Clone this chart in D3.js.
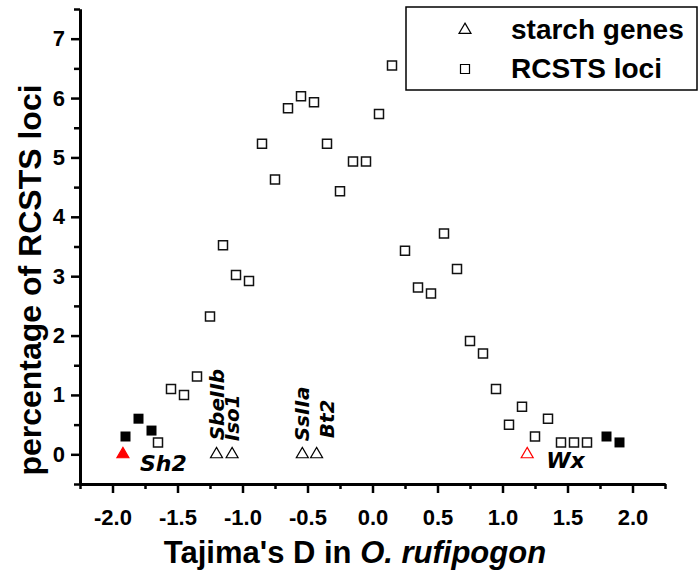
<!DOCTYPE html>
<html>
<head>
<meta charset="utf-8">
<script src="https://cdn.jsdelivr.net/npm/d3@7"></script>
<style>
  html, body { margin: 0; padding: 0; background: #fff; }
  #chart { width: 699px; height: 575px; }
  .tick text { font-family: "Liberation Sans", Arial, sans-serif; font-weight: bold; font-size: 22px; fill: #000; }
  .gene { font-family: "DejaVu Sans", Verdana, sans-serif; font-weight: bold; font-style: italic; }
</style>
</head>
<body>
<div id="chart"></div>
<script>
// ---- data ----
// RCSTS loci (open squares): Tajima's D bin vs percentage
const lociD = [-1.65, -1.55, -1.45, -1.35, -1.25, -1.15, -1.05, -0.95, -0.85, -0.75,
  -0.65, -0.55, -0.45, -0.35, -0.25, -0.15, -0.05, 0.05, 0.15, 0.25,
  0.35, 0.45, 0.55, 0.65, 0.75, 0.85, 0.95, 1.05, 1.15, 1.25,
  1.35, 1.45, 1.55, 1.65];
const lociPct = [0.2, 1.1, 1.0, 1.31, 2.32, 3.52, 3.02, 2.92, 5.23, 4.63,
  5.83, 6.03, 5.93, 5.23, 4.43, 4.93, 4.93, 5.73, 6.55, 3.43,
  2.81, 2.71, 3.72, 3.12, 1.91, 1.70, 1.10, 0.50, 0.80, 0.30,
  0.60, 0.20, 0.20, 0.20];

// tail loci (filled squares)
const tailD = [-1.9, -1.8, -1.7, 1.8, 1.9];
const tailPct = [0.3, 0.6, 0.4, 0.3, 0.2];

// starch genes (triangles at 0)
const geneNames = ["Sh2", "SbeIIb", "Iso1", "SsIIa", "Bt2", "Wx"];
const geneD = [-1.92, -1.2, -1.08, -0.54, -0.43, 1.19];
const genePct = [0, 0, 0, 0, 0, 0];
const geneType = ["redFilled", "open", "open", "open", "open", "redOpen"];

const xTicks = [-2.0, -1.5, -1.0, -0.5, 0.0, 0.5, 1.0, 1.5, 2.0];
const yTicks = [0, 1, 2, 3, 4, 5, 6, 7];
const legendLabels = ["starch genes", "RCSTS loci"];

// ---- init ----
const width = 699, height = 575;
const svg = d3.select("#chart").append("svg")
  .attr("width", width)
  .attr("height", height);

const x = d3.scaleLinear().domain([-2.25, 2.25]).range([80, 665]);
const y = d3.scaleLinear().domain([-0.5, 7.5]).range([484, 9]);

// ---- axes ----
const xMinor = d3.range(-2.25, 2.26, 0.5);
const yMinor = d3.range(-0.5, 7.6, 1);
const noLabel = () => "";

const xAxisG = svg.append("g").attr("transform", `translate(0,${y(-0.5)})`);
xAxisG.append("g")
  .call(d3.axisBottom(x).tickValues(xMinor).tickSize(5).tickFormat(noLabel).tickSizeOuter(0));
const xMajor = xAxisG.append("g")
  .call(d3.axisBottom(x).tickValues(xTicks).tickSize(9).tickPadding(16)
    .tickFormat(d => d3.format(".1f")(d).replace("−", "-")).tickSizeOuter(0));

const yAxisG = svg.append("g").attr("transform", `translate(${x(-2.25)},0)`);
yAxisG.append("g")
  .call(d3.axisLeft(y).tickValues(yMinor).tickSize(6).tickFormat(noLabel).tickSizeOuter(0));
yAxisG.append("g")
  .call(d3.axisLeft(y).tickValues(yTicks).tickSize(9).tickPadding(6)
    .tickFormat(d3.format("d")).tickSizeOuter(0));

svg.selectAll(".domain").attr("stroke", "#000").attr("stroke-width", 3);
svg.selectAll(".tick line").attr("stroke", "#000").attr("stroke-width", 2.5);

// axis titles
svg.append("text")
  .attr("x", 355).attr("y", 563)
  .attr("text-anchor", "middle")
  .style("font-family", "Liberation Sans, Arial, sans-serif")
  .style("font-weight", "bold")
  .style("font-size", "31px")
  .call(t => {
    t.append("tspan").text("Tajima's D in ");
    t.append("tspan").style("font-style", "italic").text("O. rufipogon");
  });

svg.append("text")
  .attr("transform", `translate(41,280) rotate(-90)`)
  .attr("text-anchor", "middle")
  .style("font-family", "Liberation Sans, Arial, sans-serif")
  .style("font-weight", "bold")
  .style("font-size", "32px")
  .text("percentage of RCSTS loci");

// ---- marks ----
const openSq = d3.symbol(d3.symbolSquare, 81);
const fillSq = d3.symbol(d3.symbolSquare, 100);
const tri = d3.symbol(d3.symbolTriangle, 62);

svg.append("g").selectAll("path")
  .data(lociD.map((d, i) => [d, lociPct[i]]))
  .join("path")
  .attr("d", openSq)
  .attr("transform", d => `translate(${x(d[0])},${y(d[1])})`)
  .attr("fill", "#fff")
  .attr("stroke", "#111")
  .attr("stroke-width", 1.5);

svg.append("g").selectAll("path")
  .data(tailD.map((d, i) => [d, tailPct[i]]))
  .join("path")
  .attr("d", fillSq)
  .attr("transform", d => `translate(${x(d[0])},${y(d[1])})`)
  .attr("fill", "#000");

const genes = geneNames.map((n, i) => ({ name: n, d: geneD[i], v: genePct[i], type: geneType[i] }));

svg.append("g").selectAll("path")
  .data(genes)
  .join("path")
  .attr("d", tri)
  .attr("transform", d => `translate(${x(d.d)},${y(d.v)})`)
  .attr("fill", d => d.type === "redFilled" ? "#f00" : "#fff")
  .attr("stroke", d => d.type === "open" ? "#000" : "#f00")
  .attr("stroke-width", 1.2);

// gene labels: offsets from each triangle, rotated ones read upward
const labelPlace = {
  Sh2: { dx: 17, dy: 17, rot: false, size: 22 },
  SbeIIb: { dx: 7, dy: -14, rot: true, size: 20 },
  Iso1: { dx: 7, dy: -13, rot: true, size: 20 },
  SsIIa: { dx: 7, dy: -13, rot: true, size: 20 },
  Bt2: { dx: 17, dy: -16, rot: true, size: 20 },
  Wx: { dx: 19, dy: 14, rot: false, size: 22 }
};

svg.append("g").selectAll("text")
  .data(genes)
  .join("text")
  .attr("class", "gene")
  .attr("transform", d => {
    const p = labelPlace[d.name];
    const px = x(d.d) + p.dx, py = y(d.v) + p.dy;
    return p.rot ? `translate(${px},${py}) rotate(-90)` : `translate(${px},${py})`;
  })
  .style("font-size", d => labelPlace[d.name].size + "px")
  .text(d => d.name);

// ---- legend ----
const legend = svg.append("g");
legend.append("rect")
  .attr("x", 406).attr("y", 7)
  .attr("width", 291).attr("height", 83)
  .attr("fill", "#fff")
  .attr("stroke", "#000")
  .attr("stroke-width", 1.5);

const legendSym = [tri, openSq];
legendLabels.forEach((lab, i) => {
  const ly = 30 + i * 39;
  legend.append("path")
    .attr("d", legendSym[i])
    .attr("transform", `translate(465,${ly})`)
    .attr("fill", "#fff")
    .attr("stroke", "#000")
    .attr("stroke-width", 1.2);
  legend.append("text")
    .attr("x", 511).attr("y", ly + 9)
    .style("font-family", "Liberation Sans, Arial, sans-serif")
    .style("font-weight", "bold")
    .style("font-size", "28px")
    .text(lab);
});
</script>
</body>
</html>
